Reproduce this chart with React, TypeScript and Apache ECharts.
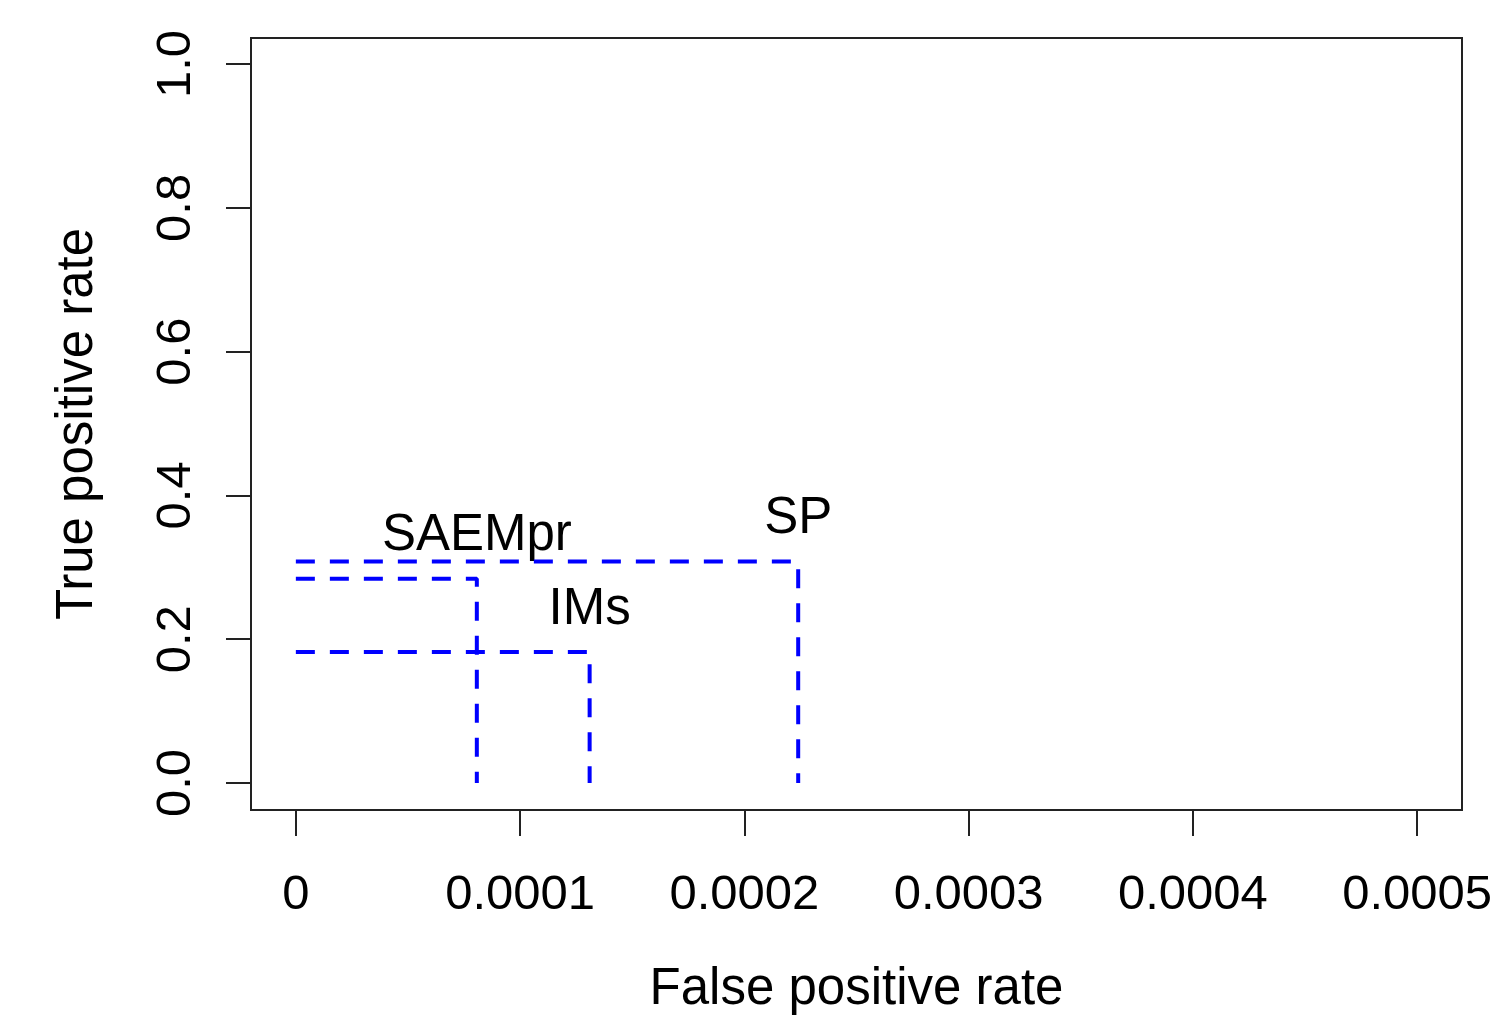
import React, { useEffect, useRef } from "react";
import * as echarts from "echarts";

const methods = ["SP", "SAEMpr", "IMs"];
const fpr = [0.000224, 0.0000807, 0.000131];
const tpr = [0.308, 0.284, 0.182];
const xTicks = [0, 0.0001, 0.0002, 0.0003, 0.0004, 0.0005];
const yTicks = [0, 0.2, 0.4, 0.6, 0.8, 1.0];

const FONT = "'Liberation Sans', Arial, sans-serif";

export default function App() {
  const ref = useRef<HTMLDivElement>(null);
  useEffect(() => {
    if (!ref.current) return;
    const chart = echarts.init(ref.current, undefined, { renderer: "svg" });
    const lineSeries = methods.map((m, i) => ({
      type: "line",
      name: m,
      data: [
        [0, tpr[i]],
        [fpr[i], tpr[i]],
        [fpr[i], 0],
      ],
      symbol: "none",
      lineStyle: { color: "#0000ff", width: 4, type: [19, 15] },
      silent: true,
    }));
    const labelSeries = {
      type: "scatter",
      data: methods.map((m, i) => ({ name: m, value: [fpr[i], tpr[i]] })),
      symbolSize: 1,
      itemStyle: { color: "#000", opacity: 0 },
      label: {
        show: true,
        formatter: "{b}",
        position: "top",
        distance: 20,
        color: "#000000",
        opacity: 1,
        textBorderWidth: 0,
        fontFamily: FONT,
        fontSize: 51,
      },
      silent: true,
    };
    chart.setOption({
      animation: false,
      backgroundColor: "#fff",
      grid: {
        left: 251,
        top: 38,
        width: 1211,
        height: 772,
        outerBoundsMode: "none",
        containLabel: false,
        show: true,
        borderColor: "#222",
        borderWidth: 2,
        backgroundColor: "transparent",
      },
      xAxis: {
        type: "value",
        min: -0.00002,
        max: 0.00052,
        name: "False positive rate",
        nameLocation: "middle",
        nameGap: 151,
        nameTextStyle: { fontFamily: FONT, fontSize: 51, color: "#000" },
        axisLine: { show: false, onZero: false },
        splitLine: { show: false },
        axisTick: {
          show: true,
          length: 26,
          customValues: xTicks,
          lineStyle: { color: "#222", width: 2 },
        },
        axisLabel: {
          customValues: xTicks,
          margin: 57,
          fontFamily: FONT,
          fontSize: 49,
          color: "#000",
          formatter: (v: number) => (v === 0 ? "0" : v.toFixed(4)),
        },
      },
      yAxis: {
        type: "value",
        min: -0.0376,
        max: 1.0362,
        name: "True positive rate",
        nameLocation: "middle",
        nameGap: 151,
        nameRotate: 90,
        nameTextStyle: { fontFamily: FONT, fontSize: 51, color: "#000" },
        axisLine: { show: false, onZero: false },
        splitLine: { show: false },
        axisTick: {
          show: true,
          length: 25,
          customValues: yTicks,
          lineStyle: { color: "#222", width: 2 },
        },
        axisLabel: {
          customValues: yTicks,
          rotate: 90,
          margin: 54,
          fontFamily: FONT,
          fontSize: 49,
          color: "#000",
          formatter: (v: number) => v.toFixed(1),
        },
      },
      series: [...lineSeries, labelSeries],
    });
    return () => chart.dispose();
  }, []);
  return (
    <div
      ref={ref}
      style={{ position: "fixed", left: 0, top: 0, width: 1497, height: 1015 }}
    />
  );
}
